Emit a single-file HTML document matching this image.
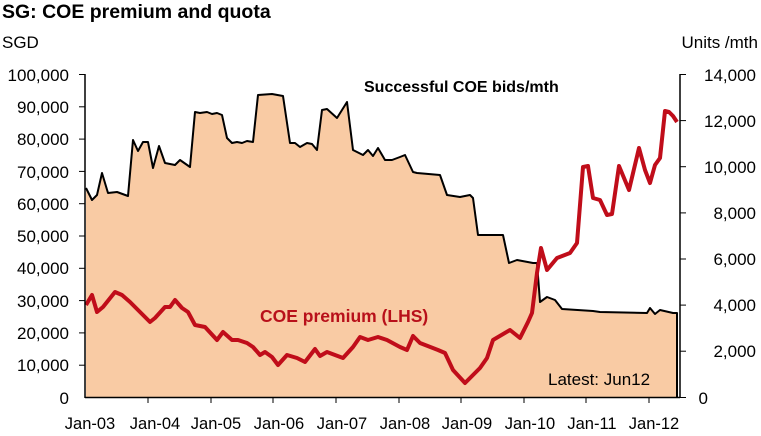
<!DOCTYPE html>
<html><head><meta charset="utf-8"><style>
html,body{margin:0;padding:0;background:#fff;}
svg{display:block;font-family:"Liberation Sans",sans-serif;}
</style></head><body>
<svg width="761" height="436" viewBox="0 0 761 436">
<text x="2" y="18" font-size="19.5" font-weight="bold" fill="#000">SG: COE premium and quota</text>
<text x="2" y="48" font-size="17" fill="#000">SGD</text>
<text x="758" y="48" font-size="17" fill="#000" text-anchor="end">Units /mth</text>
<polygon fill="#f9cba4" points="86,397 86,188 92,200 97,195 102,173 108,193 117,192 128,196 133,140 138,151 143,142 148,142 153,168 159,146 165,163 175,165 180,160 190,167 195,112 200,113 207,112 212,114 217,113 222,115 227,138 232,143 237,142 242,143 247,141 253,142 258,95 272,94 283,96 290,143 295,143 300,147 307,143 312,144 317,150 322,110 327,109 337,118 347,102 353,150 363,155 368,150 373,156 378,148 385,160 392,160 400,157 405,155 413,172 417,173 440,175 447,195 460,197 470,195 473,198 478,235 503,235 509,263 517,260 533,263 537,263 540,302 547,297 555,300 562,309 593,311 600,312 647,313 650,308 655,314 660,310 673,313 677,313 677,397"/>
<polyline fill="none" stroke="#000" stroke-width="2" stroke-linejoin="round" points="86,188 92,200 97,195 102,173 108,193 117,192 128,196 133,140 138,151 143,142 148,142 153,168 159,146 165,163 175,165 180,160 190,167 195,112 200,113 207,112 212,114 217,113 222,115 227,138 232,143 237,142 242,143 247,141 253,142 258,95 272,94 283,96 290,143 295,143 300,147 307,143 312,144 317,150 322,110 327,109 337,118 347,102 353,150 363,155 368,150 373,156 378,148 385,160 392,160 400,157 405,155 413,172 417,173 440,175 447,195 460,197 470,195 473,198 478,235 503,235 509,263 517,260 533,263 537,263 540,302 547,297 555,300 562,309 593,311 600,312 647,313 650,308 655,314 660,310 673,313 677,313 677,397"/>
<polyline fill="none" stroke="#c00d1a" stroke-width="4" stroke-linejoin="round" points="86,305 92,295 97,312 103,307 115,292 122,295 130,302 140,312 150,322 155,318 165,307 170,307 175,300 182,308 188,312 195,325 205,327 217,340 223,332 232,340 238,340 247,343 253,347 260,355 265,352 272,357 278,365 287,355 297,358 305,362 315,349 320,356 327,352 335,355 343,358 353,347 360,337 368,340 378,337 387,340 400,347 407,350 413,336 420,343 438,350 445,353 453,370 465,383 480,368 487,358 493,340 510,330 520,338 528,322 532,313 537,273 541,248 547,270 557,258 570,253 577,243 583,167 588,166 593,198 600,200 607,215 612,214 619,166 629,190 639,148 645,170 650,183 655,165 660,158 665,111 669,112 673,116 677,122"/>
<line x1="85" y1="74" x2="85" y2="398" stroke="#000" stroke-width="1.5"/>
<line x1="680" y1="74" x2="680" y2="398" stroke="#000" stroke-width="1.5"/>
<line x1="85" y1="397.5" x2="680" y2="397.5" stroke="#000" stroke-width="1.5"/>
<g stroke="#000" stroke-width="1">
<line x1="79" y1="74.5" x2="85" y2="74.5"/><line x1="79" y1="106.8" x2="85" y2="106.8"/><line x1="79" y1="139.1" x2="85" y2="139.1"/><line x1="79" y1="171.4" x2="85" y2="171.4"/><line x1="79" y1="203.7" x2="85" y2="203.7"/><line x1="79" y1="236" x2="85" y2="236"/><line x1="79" y1="268.3" x2="85" y2="268.3"/><line x1="79" y1="300.6" x2="85" y2="300.6"/><line x1="79" y1="332.9" x2="85" y2="332.9"/><line x1="79" y1="365.2" x2="85" y2="365.2"/>
<line x1="680" y1="74.5" x2="686" y2="74.5"/><line x1="680" y1="120.6" x2="686" y2="120.6"/><line x1="680" y1="166.7" x2="686" y2="166.7"/><line x1="680" y1="212.9" x2="686" y2="212.9"/><line x1="680" y1="259" x2="686" y2="259"/><line x1="680" y1="305.1" x2="686" y2="305.1"/><line x1="680" y1="351.2" x2="686" y2="351.2"/><line x1="680" y1="397.5" x2="686" y2="397.5"/>
<line x1="148" y1="397" x2="148" y2="403"/><line x1="211" y1="397" x2="211" y2="403"/><line x1="273" y1="397" x2="273" y2="403"/><line x1="336" y1="397" x2="336" y2="403"/><line x1="399" y1="397" x2="399" y2="403"/><line x1="461" y1="397" x2="461" y2="403"/><line x1="524" y1="397" x2="524" y2="403"/><line x1="586" y1="397" x2="586" y2="403"/><line x1="649" y1="397" x2="649" y2="403"/>
</g>
<g font-size="17" fill="#000" text-anchor="end">
<text x="69" y="81">100,000</text><text x="69" y="113">90,000</text><text x="69" y="145">80,000</text><text x="69" y="178">70,000</text><text x="69" y="210">60,000</text><text x="69" y="242">50,000</text><text x="69" y="274">40,000</text><text x="69" y="307">30,000</text><text x="69" y="339">20,000</text><text x="69" y="371">10,000</text><text x="69" y="404">0</text>
</g>
<g font-size="17" fill="#000" text-anchor="end">
<text x="756" y="81">14,000</text><text x="756" y="127">12,000</text><text x="756" y="173">10,000</text><text x="756" y="219">8,000</text><text x="756" y="265">6,000</text><text x="756" y="311">4,000</text><text x="756" y="357">2,000</text><text x="708" y="404">0</text>
</g>
<g font-size="16.5" fill="#000" text-anchor="middle">
<text x="90" y="429">Jan-03</text><text x="155" y="429">Jan-04</text><text x="216" y="429">Jan-05</text><text x="279" y="429">Jan-06</text><text x="342" y="429">Jan-07</text><text x="405" y="429">Jan-08</text><text x="467" y="429">Jan-09</text><text x="530" y="429">Jan-10</text><text x="592" y="429">Jan-11</text><text x="654" y="429">Jan-12</text>
</g>
<text x="364" y="92" font-size="16" font-weight="bold" fill="#000">Successful COE bids/mth</text>
<text x="260" y="322" font-size="17.5" font-weight="bold" fill="#b8101a">COE premium (LHS)</text>
<text x="548" y="385" font-size="17" fill="#000">Latest: Jun12</text>
</svg>
</body></html>
